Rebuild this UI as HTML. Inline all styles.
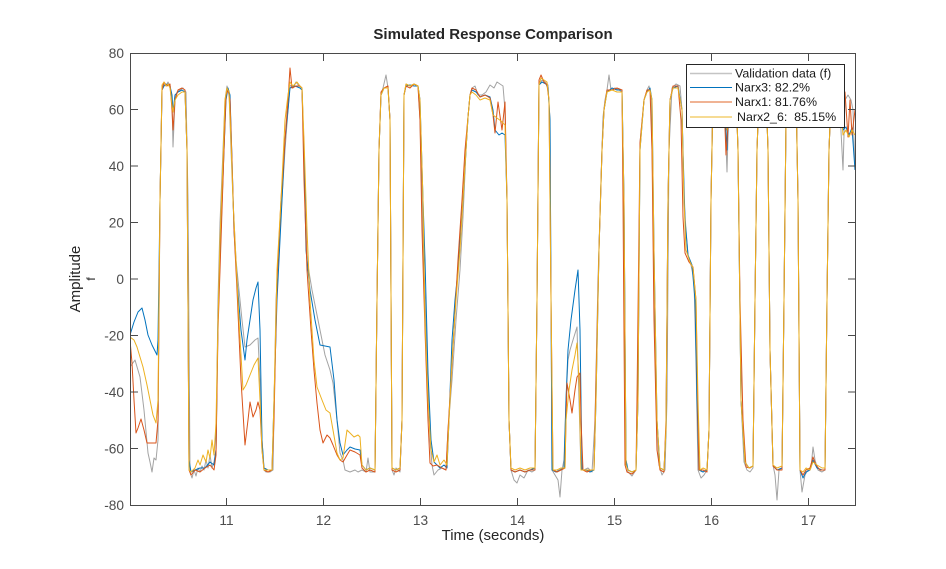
<!DOCTYPE html>
<html><head><meta charset="utf-8"><style>
html,body{margin:0;padding:0;background:#fff;}
svg{display:block;}
text{font-family:"Liberation Sans",Arial,sans-serif;}
</style></head><body>
<svg width="946" height="569" viewBox="0 0 946 569" xmlns="http://www.w3.org/2000/svg">
<rect width="946" height="569" fill="#fff"/>
<defs><clipPath id="c"><rect x="130" y="53" width="725" height="452"/></clipPath></defs>
<g clip-path="url(#c)" fill="none" stroke-width="1" stroke-linejoin="round">
<polyline stroke="#a3a3a3" points="130,367 135,360 140,377 144,410 148,453 150,462 152,472 154,458 156,460 158,440 160,200 162,90 164,84 166,86 168,82 170,86 172,100 173,147 175,100 177,92 180,90 183,88 186,92 188,200 190,472 192,478 194,470 196,476 198,468 200,472 202,466 204,470 206,460 208,468 210,455 212,468 214,462 216,450 218,300 220,223 223,150 225,100 227,86 229,92 231,150 233,200 236,260 239,290 242,320 245,347 250,345 255,340 258,338 260,380 262,440 264,470 266,472 270,472 273,470 276,300 280,230 285,150 288,110 290,85 293,88 296,82 299,86 302,88 304,150 307,260 312,290 316,310 320,330 325,355 330,370 333,383 337,420 340,453 343,460 345,470 350,472 355,470 358,472 362,470 366,472 368,458 370,472 375,472 377,300 379,150 381,95 383,88 386,75 388,88 390,120 392,470 394,475 396,468 400,472 402,420 404,95 406,84 410,86 414,84 418,86 420,120 422,200 424,270 427,353 430,440 432,465 434,475 438,470 442,468 446,470 448,430 452,380 456,320 460,270 463,217 466,150 468,117 470,95 472,88 475,86 478,95 482,95 486,92 490,85 494,88 497,82 500,84 503,86 505,110 507,200 509,420 511,470 514,480 517,483 520,475 524,478 528,470 532,472 535,470 537,300 539,85 542,80 545,82 548,85 550,120 552,470 555,475 558,480 560,497 562,470 564,460 566,400 568,360 570,350 573,340 577,327 579,400 581,470 584,470 588,468 592,472 595,420 598,280 601,180 603,117 605,100 607,90 609,75 611,90 615,88 619,90 622,92 624,200 626,460 628,472 632,476 636,470 638,400 640,143 644,100 647,90 649,86 651,95 653,200 656,400 659,465 662,475 665,470 667,400 669,150 672,88 676,84 680,86 682,110 684,200 686,230 688,255 691,265 694,280 696,360 698,470 701,478 704,475 707,470 709,430 711,200 713,95 716,88 720,88 724,90 727,172 729,100 732,88 736,90 738,150 741,400 744,462 747,470 750,472 753,468 755,300 757,150 759,95 762,88 766,90 768,150 770,350 773,465 775,475 777,500 779,470 782,468 784,300 786,120 788,90 792,88 796,90 798,200 800,470 802,492 805,475 808,470 811,468 813,447 815,460 818,470 822,472 825,470 827,300 829,150 831,100 835,95 839,92 843,170 845,100 848,95 851,100 853,110 855,170"/>
<polyline stroke="#0072bd" points="130,335 134,322 138,312 142,308 145,320 148,335 152,345 157,355 158,340 160,200 162,90 164,86 167,84 170,86 172,95 173,112 175,95 178,92 182,90 185,92 187,150 189,460 191,472 195,470 200,468 205,468 210,462 214,465 216,450 218,320 221,230 224,150 226,100 228,88 230,95 232,160 234,230 237,280 241,330 245,360 247,340 250,320 253,300 256,288 258,282 260,330 262,440 264,468 268,470 272,470 274,400 277,300 281,220 285,140 288,110 290,88 295,86 300,88 302,90 304,150 306,250 310,290 315,320 320,345 325,346 330,347 334,380 337,420 340,443 343,455 347,450 350,447 355,449 360,450 362,465 366,470 370,468 375,470 377,300 379,150 381,95 384,88 388,88 390,120 392,468 396,470 400,468 402,420 404,95 406,86 410,85 414,86 418,86 420,100 423,200 425,260 428,373 431,440 434,462 437,465 440,468 444,465 447,468 449,420 452,340 455,300 457,280 460,240 463,200 466,150 468,117 470,95 472,90 476,92 480,97 485,95 490,97 493,110 495,130 499,135 502,133 505,135 507,200 509,420 511,470 515,472 520,470 525,472 530,470 535,468 537,300 539,85 542,82 546,84 548,88 550,120 552,470 556,472 560,470 564,468 566,400 568,350 571,320 575,290 578,270 580,330 582,470 586,470 590,472 594,470 596,400 599,250 602,150 604,110 607,92 612,88 617,90 622,90 624,200 626,460 628,470 632,472 636,470 638,400 640,150 644,100 647,92 650,88 652,100 654,250 657,420 660,468 664,470 666,430 668,200 670,100 673,88 678,86 682,110 683,150 685,220 688,255 692,265 695,300 697,400 699,470 703,472 707,470 709,430 711,200 713,95 716,88 720,88 724,90 727,150 729,100 732,88 736,90 738,150 741,400 745,462 749,468 753,466 755,300 757,150 759,95 762,88 766,90 768,150 770,350 773,465 777,470 782,468 784,300 786,120 788,90 792,88 796,90 798,200 800,470 803,478 806,472 810,470 813,460 817,468 822,470 825,470 827,300 829,150 831,100 835,95 840,100 843,130 846,127 849,135 852,128 855,170"/>
<polyline stroke="#d95319" points="130,340 132,363 134,400 136,433 138,428 141,419 144,430 147,443 152,443 156,443 158,420 160,200 162,90 164,82 167,86 170,84 172,110 173,130 175,100 178,90 182,88 185,90 187,150 189,470 191,475 195,470 200,472 205,468 210,465 214,470 216,455 218,330 221,240 224,150 226,95 228,90 230,100 232,160 234,230 237,290 241,380 245,445 248,420 250,402 253,417 256,410 258,402 260,410 262,450 264,470 268,472 272,470 274,420 277,280 281,200 285,140 288,100 290,68 292,88 296,86 300,86 302,88 304,180 307,270 311,330 314,370 317,403 320,430 323,443 327,435 330,438 333,445 337,455 340,460 343,462 347,455 350,450 355,452 360,455 362,468 366,472 370,470 375,472 377,300 379,150 381,92 384,88 388,86 390,120 392,470 396,472 400,470 402,420 404,95 406,86 410,88 414,84 418,86 420,120 422,230 425,330 428,420 430,463 433,466 437,465 442,468 446,470 448,430 451,380 454,330 458,260 462,200 465,150 468,117 470,95 472,88 476,90 480,97 485,95 490,98 493,115 495,133 498,102 502,130 505,102 507,200 509,420 511,470 515,472 520,470 525,472 530,470 535,470 537,300 539,80 541,75 544,82 547,85 549,100 551,300 553,470 557,472 561,470 565,468 566,420 567,383 570,400 572,413 575,390 577,377 580,373 581,420 583,470 587,472 591,470 594,470 596,380 599,250 602,150 604,110 607,90 612,90 617,88 622,90 623,200 625,465 627,472 632,474 636,470 637,400 640,143 644,100 647,90 650,90 652,150 654,320 657,450 660,470 664,472 666,420 668,200 670,100 673,86 678,86 681,120 683,217 685,253 689,262 693,267 696,300 698,420 699,470 703,470 707,472 709,430 711,200 713,95 716,88 720,90 724,100 726,155 729,110 732,90 736,92 738,150 740,300 743,420 746,467 750,468 753,466 755,300 757,150 759,95 762,88 766,90 768,150 770,350 773,466 777,470 782,470 784,300 786,120 788,90 792,88 796,90 798,200 800,470 803,475 806,470 810,468 813,457 816,465 820,470 825,470 827,300 829,150 831,100 835,95 839,100 843,120 845,92 848,137 850,100 852,135 855,110"/>
<polyline stroke="#edb120" points="130,337 134,340 137,347 140,357 143,367 147,385 150,400 153,415 156,423 158,400 160,200 162,85 164,82 166,86 168,84 170,88 172,105 173,112 175,100 178,95 182,92 185,92 187,150 189,470 191,472 195,468 198,460 200,465 203,455 206,462 208,450 210,458 212,440 214,455 216,423 218,320 220,240 223,160 225,100 227,88 229,92 231,140 233,200 236,260 239,320 243,390 246,385 250,375 254,365 258,358 260,400 262,450 264,470 268,470 272,470 274,400 277,270 281,200 285,120 288,95 290,82 293,86 297,82 300,86 302,88 304,140 307,230 310,300 314,360 317,387 322,400 326,410 330,413 333,430 337,453 340,460 343,458 347,430 350,433 354,437 358,435 360,437 362,465 366,470 370,468 375,470 377,300 379,150 381,95 384,88 388,88 390,120 392,468 396,470 400,468 402,420 404,95 406,84 410,86 414,84 418,86 420,100 423,200 425,320 428,400 431,450 434,462 437,455 440,465 444,460 447,465 449,420 452,360 456,300 460,250 463,200 466,150 468,117 470,95 472,92 476,95 480,100 485,98 490,100 493,115 497,118 501,121 505,125 507,200 509,420 511,468 515,470 520,468 525,470 530,468 535,468 537,300 539,85 541,78 544,80 547,82 549,100 551,300 553,470 557,470 561,468 565,468 566,420 569,390 572,370 575,355 577,343 579,380 581,470 585,470 590,470 594,470 596,400 599,250 602,150 604,110 607,92 612,90 617,92 622,92 624,200 626,465 628,470 632,472 636,470 638,400 640,150 644,100 647,92 650,90 652,100 654,250 657,420 660,468 664,470 666,430 668,200 670,100 673,88 678,88 682,110 684,200 686,250 690,262 693,268 696,300 698,400 700,470 703,468 707,470 709,430 711,200 713,95 716,88 720,88 724,92 727,130 729,100 732,88 736,90 738,150 741,400 745,462 749,468 753,466 755,300 757,150 759,95 762,88 766,90 768,150 770,350 773,465 777,468 782,466 784,300 786,120 788,90 792,88 796,90 798,200 800,470 803,472 806,468 810,470 813,462 817,465 822,468 825,468 827,300 829,150 831,100 835,95 840,100 843,135 846,130 849,137 852,130 855,135"/>
</g>
<!-- axes box -->
<rect x="130.5" y="53.5" width="725" height="452" fill="none" stroke="#4a4a4a" stroke-width="1"/>
<g stroke="#4a4a4a" stroke-width="1">
<path d="M226.5,505V498M323.5,505V498M420.5,505V498M517.5,505V498M614.5,505V498M711.5,505V498M808.5,505V498
M226.5,54V61M323.5,54V61M420.5,54V61M517.5,54V61M614.5,54V61M711.5,54V61M808.5,54V61"/>
<path d="M131,109.5H138M131,166H138M131,222.5H138M131,279H138M131,335.5H138M131,392H138M131,448.5H138
M855,109.5H848M855,166H848M855,222.5H848M855,279H848M855,335.5H848M855,392H848M855,448.5H848"/>
</g>
<g fill="#4d4d4d" font-size="13.7" text-anchor="end">
<text x="124" y="58">80</text>
<text x="124" y="114.5">60</text>
<text x="124" y="171">40</text>
<text x="124" y="227.5">20</text>
<text x="124" y="284">0</text>
<text x="124" y="340.5">-20</text>
<text x="124" y="397">-40</text>
<text x="124" y="453.5">-60</text>
<text x="124" y="510">-80</text>
</g>
<g fill="#4d4d4d" font-size="13.7" text-anchor="middle">
<text x="226.5" y="525">11</text>
<text x="323.5" y="525">12</text>
<text x="420.5" y="525">13</text>
<text x="517.5" y="525">14</text>
<text x="614.5" y="525">15</text>
<text x="711.5" y="525">16</text>
<text x="808.5" y="525">17</text>
</g>
<text x="493" y="39" font-size="15" font-weight="bold" text-anchor="middle" fill="#262626">Simulated Response Comparison</text>
<text x="493" y="540" font-size="15" text-anchor="middle" fill="#262626">Time (seconds)</text>
<text transform="translate(80,279) rotate(-90)" font-size="15" text-anchor="middle" fill="#262626">Amplitude</text>
<text transform="translate(95,279) rotate(-90)" font-size="12" text-anchor="middle" fill="#262626">f</text>
<!-- legend -->
<rect x="686.5" y="64.5" width="158" height="63" fill="#fff" stroke="#262626" stroke-width="1"/>
<g stroke-width="1.6">
<line x1="690" y1="73.5" x2="732" y2="73.5" stroke="#c4c4c4"/>
<line x1="690" y1="87.5" x2="732" y2="87.5" stroke="#0072bd" stroke-width="1"/>
<line x1="690" y1="102" x2="732" y2="102" stroke="#ec9a70"/>
<line x1="690" y1="117" x2="732" y2="117" stroke="#f4cf70"/>
</g>
<g font-size="12.4" fill="#1a1a1a">
<text x="735" y="77.5">Validation data (f)</text>
<text x="735" y="91.5">Narx3: 82.2%</text>
<text x="735" y="106">Narx1: 81.76%</text>
<text x="737" y="121">Narx2_6:&#160; 85.15%</text>
</g>
</svg>
</body></html>
